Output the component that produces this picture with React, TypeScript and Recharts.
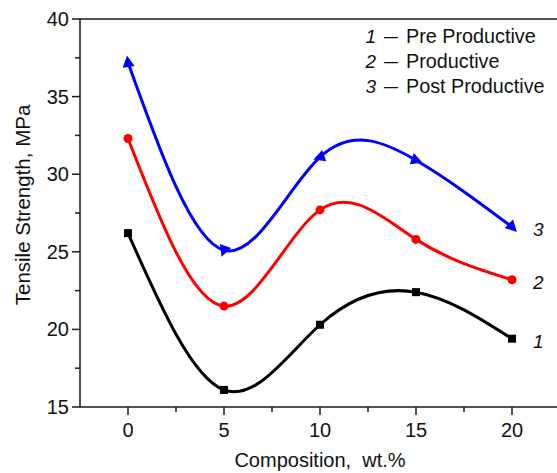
import React from 'react';
import { LineChart, Line, XAxis, YAxis, ReferenceLine, LabelList } from 'recharts';

const composition = [0, 5, 10, 15, 20];
const preProductive = [26.2, 16.1, 20.3, 22.4, 19.4];
const productive = [32.3, 21.5, 27.7, 25.8, 23.2];
const postProductive = [37.2, 25.1, 31.1, 30.9, 26.6];

const xTicks = [0, 2.5, 5, 7.5, 10, 12.5, 15, 17.5, 20];
const xMajor = [0, 5, 10, 15, 20];
const yTicks = [15, 17.5, 20, 22.5, 25, 27.5, 30, 32.5, 35, 37.5, 40];
const yMajor = [15, 20, 25, 30, 35, 40];

const seriesNames = ['Pre Productive', 'Productive', 'Post Productive'];
const seriesNumbers = ['1', '2', '3'];
const xTitle = 'Composition,  wt.%';
const yTitle = 'Tensile Strength, MPa';

// marker orientation (style) for the triangle markers
const triangleAngles = [-8, 200, 250, 110, 135];

const data = composition.map((x, i) => ({
  x,
  pre: preProductive[i],
  prod: productive[i],
  post: postProductive[i],
}));

const FONT = '"Liberation Sans", Arial, Helvetica, sans-serif';
const AXIS = '#1a1a1a';

const XTick = (props: any) => {
  const { x, y, payload } = props;
  const major = xMajor.includes(payload.value);
  return (
    <g>
      <line x1={x} x2={x} y1={y} y2={y + (major ? 8 : 5)} stroke={AXIS} strokeWidth={1.5} />
      {major && (
        <text x={x} y={y + 30} textAnchor="middle" fontSize={20} fontFamily={FONT} fill="#111">
          {payload.value}
        </text>
      )}
    </g>
  );
};

const YTick = (props: any) => {
  const { x, y, payload } = props;
  const major = yMajor.includes(payload.value);
  return (
    <g>
      <line x1={x - (major ? 8 : 5)} x2={x} y1={y} y2={y} stroke={AXIS} strokeWidth={1.5} />
      {major && (
        <text x={x - 11} y={y + 7} textAnchor="end" fontSize={20} fontFamily={FONT} fill="#111">
          {payload.value}
        </text>
      )}
    </g>
  );
};

const squareDot = (p: any) =>
  p.cx == null ? <g key={`s${p.index}`} /> : (
    <rect key={`s${p.index}`} x={p.cx - 4} y={p.cy - 4} width={8} height={8} fill="#000" />
  );

const circleDot = (p: any) =>
  p.cx == null ? <g key={`c${p.index}`} /> : (
    <circle key={`c${p.index}`} cx={p.cx} cy={p.cy} r={4.5} fill="#ff0000" />
  );

const triDot = (p: any) =>
  p.cx == null ? <g key={`t${p.index}`} /> : (
    <path
      key={`t${p.index}`}
      d="M0,-7 L6,4.5 L-6,4.5 Z"
      transform={`translate(${p.cx},${p.cy}) rotate(${triangleAngles[p.index] || 0})`}
      fill="#0000ff"
    />
  );

const endLabel = (num: string) => (p: any) => {
  if (p.index !== composition.length - 1) return null;
  return (
    <text x={p.x + 21} y={p.y + 9} fontSize={19} fontStyle="italic" fontFamily={FONT} fill="#111">
      {num}
    </text>
  );
};

export default function App() {
  return (
    <div
      style={{
        position: 'absolute',
        left: 0,
        top: 0,
        width: 557,
        height: 473,
        overflow: 'hidden',
        background: '#fff',
      }}
    >
      <LineChart
        width={560}
        height={473}
        data={data}
        margin={{ top: 19, right: 0, left: 0, bottom: 0 }}
      >
        <XAxis
          dataKey="x"
          type="number"
          domain={[-2.5, 22.5]}
          ticks={xTicks}
          interval={0}
          tickSize={0}
          tickMargin={0}
          tickLine={false}
          height={66}
          axisLine={{ stroke: AXIS, strokeWidth: 1.5 }}
          tick={<XTick />}
        />
        <YAxis
          type="number"
          domain={[15, 40]}
          ticks={yTicks}
          interval={0}
          tickSize={0}
          tickMargin={0}
          tickLine={false}
          width={80}
          axisLine={{ stroke: AXIS, strokeWidth: 1.5 }}
          tick={<YTick />}
        />
        <ReferenceLine y={40} stroke={AXIS} strokeWidth={1.5} />
        <Line
          dataKey="pre"
          type="natural"
          stroke="#000"
          strokeWidth={3}
          dot={squareDot}
          activeDot={false}
          isAnimationActive={false}
        >
          <LabelList dataKey="pre" content={endLabel(seriesNumbers[0])} />
        </Line>
        <Line
          dataKey="prod"
          type="natural"
          stroke="#ff0000"
          strokeWidth={3}
          dot={circleDot}
          activeDot={false}
          isAnimationActive={false}
        >
          <LabelList dataKey="prod" content={endLabel(seriesNumbers[1])} />
        </Line>
        <Line
          dataKey="post"
          type="natural"
          stroke="#0000ff"
          strokeWidth={3}
          dot={triDot}
          activeDot={false}
          isAnimationActive={false}
        >
          <LabelList dataKey="post" content={endLabel(seriesNumbers[2])} />
        </Line>
      </LineChart>
      <svg
        width={557}
        height={473}
        style={{ position: 'absolute', left: 0, top: 0, pointerEvents: 'none' }}
      >
        {seriesNames.map((name, i) => (
          <g key={name} fontFamily={FONT} fontSize={19.8} fill="#111">
            <text x={376} y={43 + i * 25} textAnchor="end" fontStyle="italic" fontSize={19}>
              {seriesNumbers[i]}
            </text>
            <text x={384} y={43 + i * 25} textLength={14} lengthAdjust="spacingAndGlyphs">
              —
            </text>
            <text x={406} y={43 + i * 25}>
              {name}
            </text>
          </g>
        ))}
        <text
          x={320}
          y={467}
          textAnchor="middle"
          fontFamily={FONT}
          fontSize={20}
          fill="#111"
          style={{ whiteSpace: 'pre' }}
        >
          {xTitle}
        </text>
        <text
          x={0}
          y={0}
          transform="translate(30,205) rotate(-90)"
          textAnchor="middle"
          fontFamily={FONT}
          fontSize={20.5}
          fill="#111"
        >
          {yTitle}
        </text>
      </svg>
    </div>
  );
}
